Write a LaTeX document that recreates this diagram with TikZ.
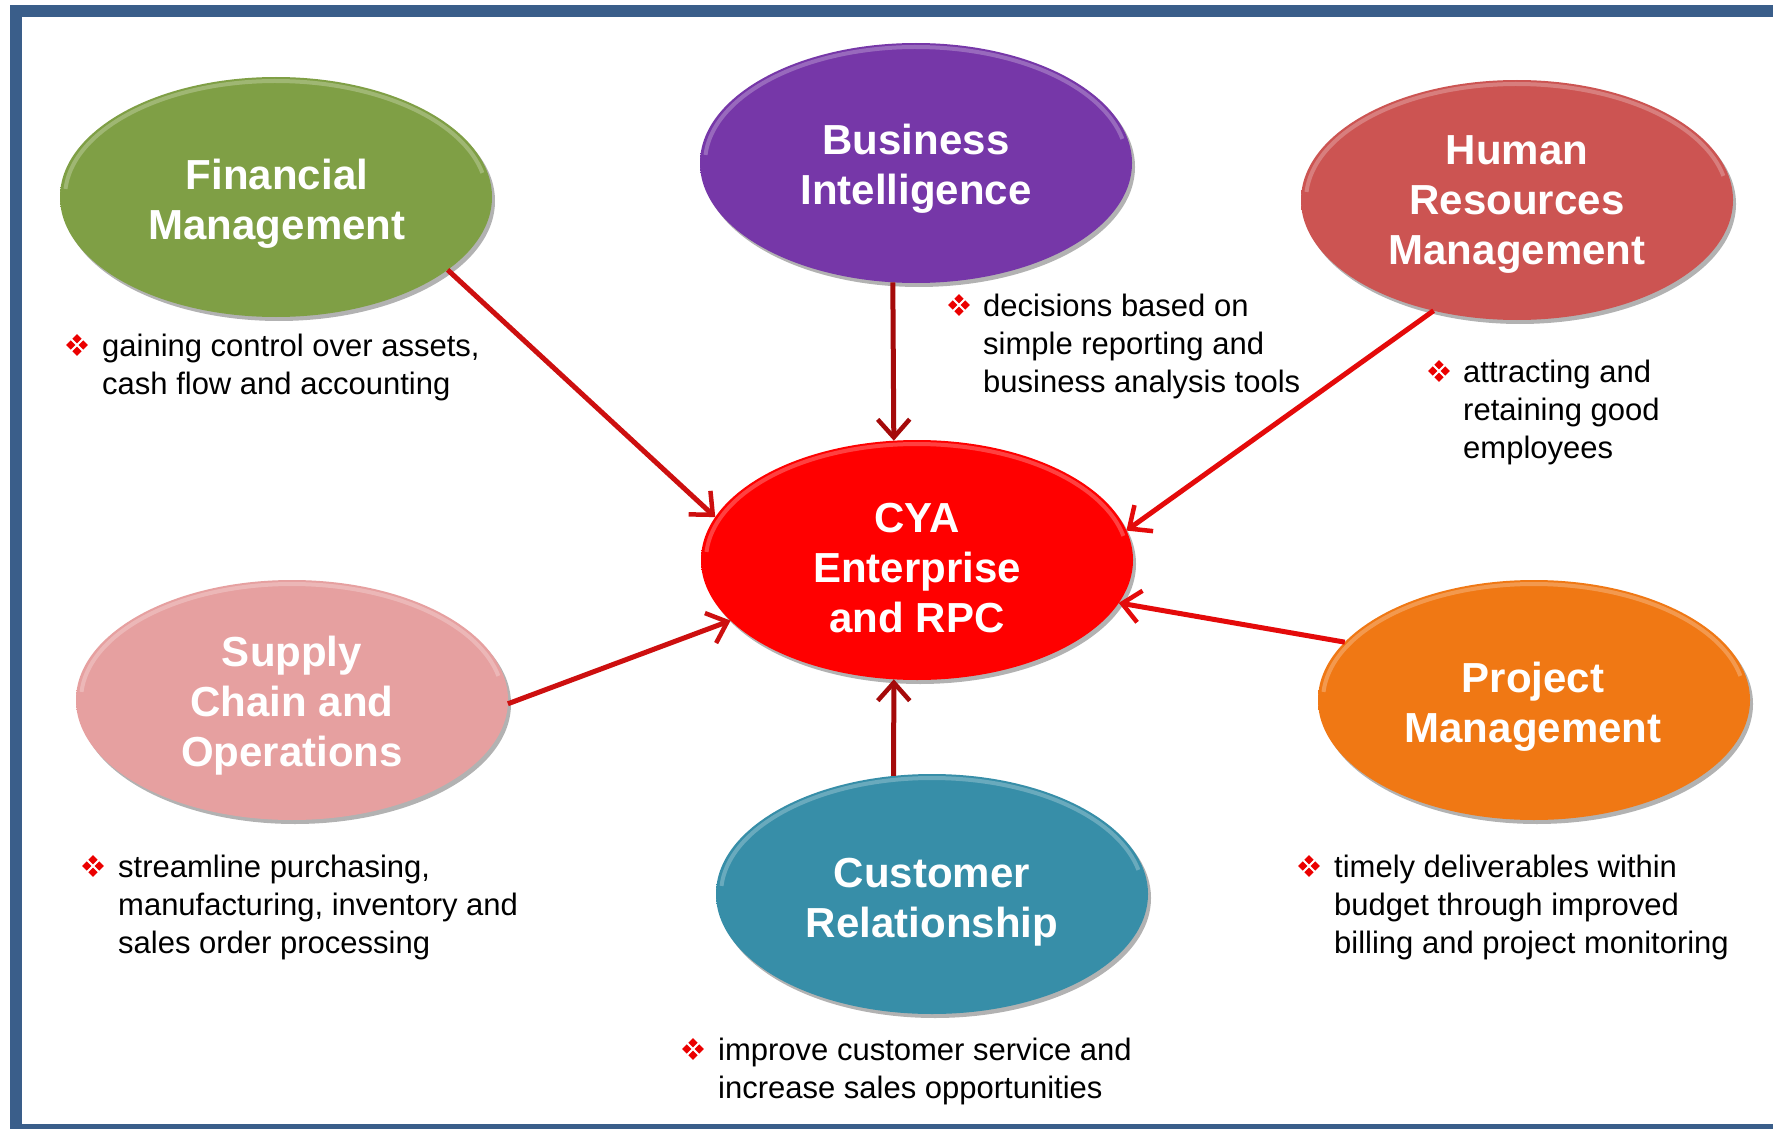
\documentclass[tikz,border=0pt]{standalone}
\usepackage{fontspec}
\setmainfont{Liberation Sans}
\usetikzlibrary{arrows.meta,shapes.geometric,shadows}
\definecolor{frameblue}{RGB}{58,94,138}
\definecolor{arrowred}{RGB}{205,15,15}
\definecolor{arrowbright}{RGB}{228,10,10}
\definecolor{arrowdark}{RGB}{165,10,10}
\definecolor{cgreen}{RGB}{127,159,69}
\definecolor{cpurple}{RGB}{118,55,168}
\definecolor{chr}{RGB}{204,84,82}
\definecolor{ccya}{RGB}{255,0,0}
\definecolor{cpink}{RGB}{230,160,160}
\definecolor{cteal}{RGB}{55,142,168}
\definecolor{corange}{RGB}{240,120,20}
\definecolor{bulred}{RGB}{235,0,0}
\colorlet{bubcol}{red}
\pgfdeclareradialshading[bubcol]{bevel}{\pgfpoint{0bp}{0bp}}{color(0bp)=(bubcol); color(45bp)=(bubcol); color(48bp)=(bubcol!90!black); color(50bp)=(bubcol!55!black)}
\newcommand\hilite[1]{\draw[white, opacity=0.25, line width=4pt] (#1.center) ++(176:211 and 116) arc[start angle=176, end angle=12, x radius=211, y radius=116];}
\tikzset{
  x=1pt, y=1pt,
  bubble/.style={ellipse, minimum width=432pt, minimum height=240pt, inner sep=0pt, outer sep=0pt,
    /utils/exec={\colorlet{bubcol}{#1}}, shading=bevel,
    drop shadow={shadow xshift=3pt, shadow yshift=-4pt, fill=black, opacity=0.3}},
  bubtext/.style={text=white, align=center, font=\fontsize{42}{50}\selectfont\bfseries, inner sep=0pt},
  note/.style={anchor=base west, align=left, inner sep=0pt, font=\fontsize{31}{38}\selectfont},
  conn/.style={draw=#1, line width=5pt, -{Straight Barb[length=18pt,width=32pt,line width=4.5pt]}},
  conn/.default=arrowred,
  quad/.pic={\foreach \a in {0,90,180,270} \fill[bulred] (\a:6.2) +(4.6,0) -- +(0,4.6) -- +(-4.6,0) -- +(0,-4.6) -- cycle;}
}
\begin{document}
\begin{tikzpicture}
\useasboundingbox (0,0) rectangle (1773,-1129);
\fill[white] (0,0) rectangle (1773,-1129);
\draw[frameblue, line width=12pt, line join=miter] (1800,-11) -- (16,-11) -- (16,-1130) -- (1800,-1130);

% bubbles
\node[bubble=cgreen]  (fin)  at (276,-197) {};
\node[bubble=cpurple] (bi)   at (916,-163) {};
\node[bubble=chr]     (hr)   at (1517,-200) {};
\node[bubble=ccya]    (cya)  at (917,-560) {};
\node[bubble=cpink]   (sup)  at (292,-700) {};
\node[bubble=cteal]   (crm)  at (932,-894) {};
\node[bubble=corange] (pm)   at (1534,-700) {};
\foreach \n in {fin,bi,hr,cya,sup,crm,pm} {\hilite{\n}}

\node[bubtext] (tfin) at (277,-204) {Financial\\Management};
\node[bubtext] (tbi)  at (916,-169) {Business\\Intelligence};
\node[bubtext] (thr)  at (1517,-205) {Human\\Resources\\Management};
\node[bubtext] (tcya) at (917,-568) {CYA\\Enterprise\\and RPC};
\node[bubtext] (tsup) at (292,-706) {Supply\\Chain and\\Operations};
\node[bubtext] (tcrm) at (932,-902) {Customer\\Relationship};
\node[bubtext] (tpm)  at (1533,-707) {Project\\Management};

% connectors
\draw[conn] (fin.-23) -- (cya.168.8);
\draw[conn=arrowdark] (bi.-101.3) -- (cya.101.9);
\draw[conn=arrowbright] (hr.-127.6) -- (cya.8.9);
\draw[conn] (sup.-1.6) -- (cya.-162.3);
\draw[conn=arrowbright] (pm.163) -- (cya.-12);
\draw[conn=arrowdark] (crm.108.6) -- (cya.-101.5);

% notes (base anchor = baseline of last line)
\pic at (77,-345) {quad};
\node[note] (nfin) at (102,-394) {gaining control over assets,\\cash flow and accounting};
\pic at (959,-305) {quad};
\node[note] (nbi) at (983,-392) {decisions based on\\simple reporting and\\business analysis tools};
\pic at (1439,-371) {quad};
\node[note] (nhr) at (1463,-458) {attracting and\\retaining good\\employees};
\pic at (93,-866) {quad};
\node[note] (nsup) at (118,-953) {streamline purchasing,\\manufacturing, inventory and\\sales order processing};
\pic at (1309,-866) {quad};
\node[note] (npm) at (1334,-953) {timely deliverables within\\budget through improved\\billing and project monitoring};
\pic at (693,-1049) {quad};
\node[note] (ncrm) at (718,-1098) {improve customer service and\\increase sales opportunities};
\end{tikzpicture}
\end{document}
